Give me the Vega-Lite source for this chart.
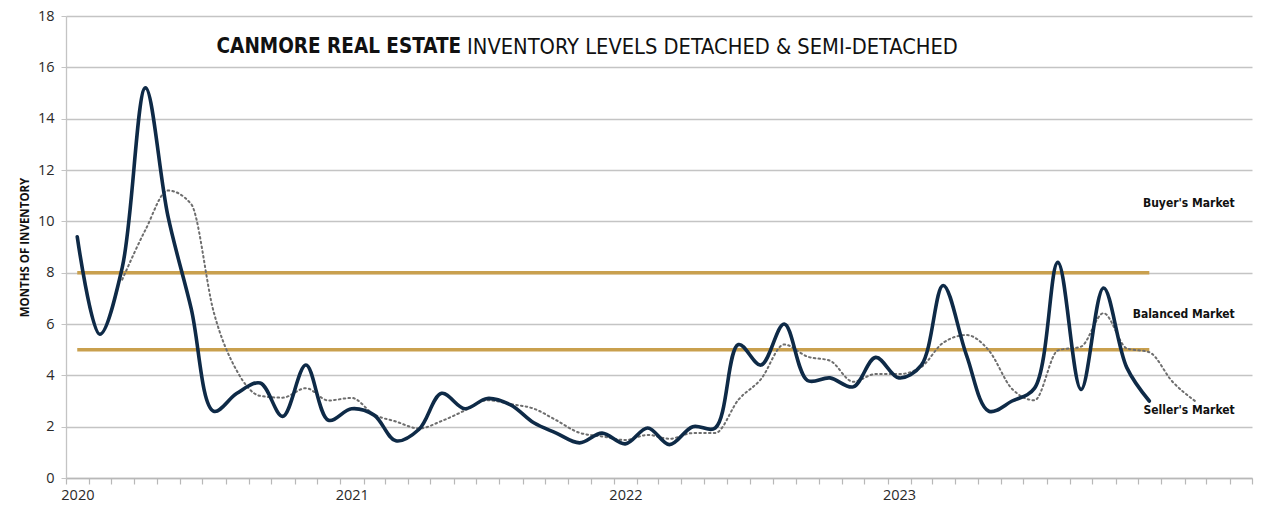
{
  "$schema": "https://vega.github.io/schema/vega-lite/v6.json",
  "width": 1186,
  "height": 462,
  "autosize": {"type": "none"},
  "padding": {"left": 66, "top": 16, "right": 20, "bottom": 38},
  "background": "white",
  "config": {"view": {"stroke": null}, "font": "Open Sans"},
  "datasets": {
    "months": [
      {"date": "2020-01-16", "inventory": 9.4, "avg": null},
      {"date": "2020-02-15", "inventory": 5.6, "avg": null},
      {"date": "2020-03-16", "inventory": 8.2, "avg": 7.73},
      {"date": "2020-04-16", "inventory": 15.2, "avg": 9.67},
      {"date": "2020-05-16", "inventory": 10.2, "avg": 11.2},
      {"date": "2020-06-16", "inventory": 6.6, "avg": 10.67},
      {"date": "2020-07-16", "inventory": 2.6, "avg": 6.47},
      {"date": "2020-08-16", "inventory": 3.3, "avg": 4.17},
      {"date": "2020-09-16", "inventory": 3.7, "avg": 3.2},
      {"date": "2020-10-16", "inventory": 2.4, "avg": 3.13},
      {"date": "2020-11-16", "inventory": 4.4, "avg": 3.5},
      {"date": "2020-12-16", "inventory": 2.25, "avg": 3.02},
      {"date": "2021-01-16", "inventory": 2.7, "avg": 3.12},
      {"date": "2021-02-15", "inventory": 2.45, "avg": 2.47},
      {"date": "2021-03-16", "inventory": 1.45, "avg": 2.2},
      {"date": "2021-04-16", "inventory": 1.9, "avg": 1.93},
      {"date": "2021-05-16", "inventory": 3.3, "avg": 2.22},
      {"date": "2021-06-16", "inventory": 2.7, "avg": 2.63},
      {"date": "2021-07-16", "inventory": 3.1, "avg": 3.03},
      {"date": "2021-08-16", "inventory": 2.85, "avg": 2.88},
      {"date": "2021-09-16", "inventory": 2.15, "avg": 2.7},
      {"date": "2021-10-16", "inventory": 1.75, "avg": 2.25},
      {"date": "2021-11-16", "inventory": 1.37, "avg": 1.76},
      {"date": "2021-12-16", "inventory": 1.75, "avg": 1.62},
      {"date": "2022-01-16", "inventory": 1.33, "avg": 1.48},
      {"date": "2022-02-15", "inventory": 1.95, "avg": 1.68},
      {"date": "2022-03-16", "inventory": 1.3, "avg": 1.53},
      {"date": "2022-04-16", "inventory": 2.0, "avg": 1.75},
      {"date": "2022-05-16", "inventory": 1.95, "avg": 1.75},
      {"date": "2022-06-16", "inventory": 5.2, "avg": 3.05},
      {"date": "2022-07-16", "inventory": 4.4, "avg": 3.85},
      {"date": "2022-08-16", "inventory": 6.0, "avg": 5.2},
      {"date": "2022-09-16", "inventory": 3.8, "avg": 4.73},
      {"date": "2022-10-16", "inventory": 3.9, "avg": 4.57},
      {"date": "2022-11-16", "inventory": 3.55, "avg": 3.75},
      {"date": "2022-12-16", "inventory": 4.7, "avg": 4.05},
      {"date": "2023-01-16", "inventory": 3.9, "avg": 4.05},
      {"date": "2023-02-15", "inventory": 4.4, "avg": 4.33},
      {"date": "2023-03-16", "inventory": 7.5, "avg": 5.27},
      {"date": "2023-04-16", "inventory": 4.8, "avg": 5.57},
      {"date": "2023-05-16", "inventory": 2.6, "avg": 4.97},
      {"date": "2023-06-16", "inventory": 3.0, "avg": 3.47},
      {"date": "2023-07-16", "inventory": 3.5, "avg": 3.03},
      {"date": "2023-08-16", "inventory": 8.4, "avg": 4.97},
      {"date": "2023-09-16", "inventory": 3.45, "avg": 5.12},
      {"date": "2023-10-16", "inventory": 7.4, "avg": 6.42},
      {"date": "2023-11-16", "inventory": 4.3, "avg": 5.05},
      {"date": "2023-12-16", "inventory": 3.0, "avg": 4.9},
      {"date": "2024-01-16", "inventory": null, "avg": 3.75},
      {"date": "2024-02-15", "inventory": null, "avg": 3.0}
    ],
    "thresholds": [
      {"name": "Buyer threshold", "value": 8, "start": "2020-01-16", "end": "2023-12-16"},
      {"name": "Seller threshold", "value": 5, "start": "2020-01-16", "end": "2023-12-16"}
    ],
    "markets": [
      {"label": "Buyer's Market", "value": 10.7},
      {"label": "Balanced Market", "value": 6.4},
      {"label": "Seller's Market", "value": 2.65}
    ],
    "titleBold": [{"text": "CANMORE REAL ESTATE"}],
    "titleRegular": [{"text": "INVENTORY LEVELS DETACHED & SEMI-DETACHED"}]
  },
  "layer": [
    {
      "data": {"name": "thresholds"},
      "mark": {"type": "rule", "color": "#C9A04E", "strokeWidth": 3.5},
      "encoding": {
        "x": {
          "field": "start",
          "type": "temporal",
          "title": null,
          "scale": {
            "type": "utc",
            "domain": [
              {"year": 2020, "month": 1, "date": 1, "utc": true},
              {"year": 2024, "month": 5, "date": 1, "utc": true}
            ]
          },
          "axis": {
            "grid": false,
            "tickCount": {"interval": "month", "step": 1},
            "labelExpr": "utcmonth(datum.value) == 0 && utcyear(datum.value) < 2024 ? utcFormat(datum.value, '%Y') : ''",
            "labelOffset": 11.4,
            "labelOverlap": false,
            "labelFlush": false,
            "labelBound": false,
            "tickSize": 6,
            "tickColor": "#b8b8b8",
            "tickWidth": 1.2,
            "domainColor": "#b8b8b8",
            "domainWidth": 1.3,
            "labelFontSize": 14.5,
            "labelColor": "#2a2a2a",
            "labelPadding": 4
          }
        },
        "x2": {"field": "end"},
        "y": {
          "field": "value",
          "type": "quantitative",
          "title": "MONTHS OF INVENTORY",
          "scale": {"domain": [0, 18], "nice": false},
          "axis": {
            "titleFontSize": 11.5,
            "titleFontWeight": "bold",
            "titleColor": "#111111",
            "titlePadding": 7,
            "values": [0, 2, 4, 6, 8, 10, 12, 14, 16, 18],
            "gridColor": "#c4c4c4",
            "gridWidth": 1.3,
            "tickSize": 5,
            "tickColor": "#c4c4c4",
            "domainColor": "#c4c4c4",
            "domainWidth": 1.3,
            "labelFontSize": 14.5,
            "labelColor": "#2a2a2a",
            "labelPadding": 7
          }
        }
      }
    },
    {
      "data": {"name": "months"},
      "transform": [{"filter": "datum.avg != null"}],
      "mark": {"type": "line", "color": "#6e6e6e", "strokeWidth": 2, "strokeDash": [1.6, 3.2], "strokeCap": "round", "interpolate": "monotone"},
      "encoding": {
        "x": {"field": "date", "type": "temporal", "title": null},
        "y": {"field": "avg", "type": "quantitative", "title": "MONTHS OF INVENTORY"}
      }
    },
    {
      "data": {"name": "months"},
      "transform": [{"filter": "datum.inventory != null"}],
      "mark": {"type": "line", "color": "#0E2A47", "strokeWidth": 3.6, "interpolate": "catmull-rom", "strokeCap": "round"},
      "encoding": {
        "x": {"field": "date", "type": "temporal", "title": null},
        "y": {"field": "inventory", "type": "quantitative", "title": "MONTHS OF INVENTORY"}
      }
    },
    {
      "data": {"name": "markets"},
      "mark": {"type": "text", "align": "right", "baseline": "middle", "font": "DejaVu Sans Condensed", "fontWeight": "bold", "fontSize": 12, "color": "#111111"},
      "encoding": {
        "x": {"datum": {"year": 2024, "month": 4, "date": 8, "utc": true}, "type": "temporal", "title": null},
        "y": {"field": "value", "type": "quantitative", "title": "MONTHS OF INVENTORY"},
        "text": {"field": "label"}
      }
    },
    {
      "data": {"name": "titleBold"},
      "mark": {"type": "text", "align": "right", "baseline": "middle", "dx": -3, "font": "DejaVu Sans Condensed", "fontWeight": "bold", "fontSize": 20.5, "color": "#111111"},
      "encoding": {
        "x": {"datum": {"year": 2021, "month": 6, "date": 15, "utc": true}, "type": "temporal", "title": null},
        "y": {"datum": 16.8, "type": "quantitative", "title": "MONTHS OF INVENTORY"},
        "text": {"field": "text"}
      }
    },
    {
      "data": {"name": "titleRegular"},
      "mark": {"type": "text", "align": "left", "baseline": "middle", "dx": 3, "font": "DejaVu Sans Condensed", "fontSize": 21.7, "color": "#111111"},
      "encoding": {
        "x": {"datum": {"year": 2021, "month": 6, "date": 15, "utc": true}, "type": "temporal", "title": null},
        "y": {"datum": 16.8, "type": "quantitative", "title": "MONTHS OF INVENTORY"},
        "text": {"field": "text"}
      }
    }
  ]
}
